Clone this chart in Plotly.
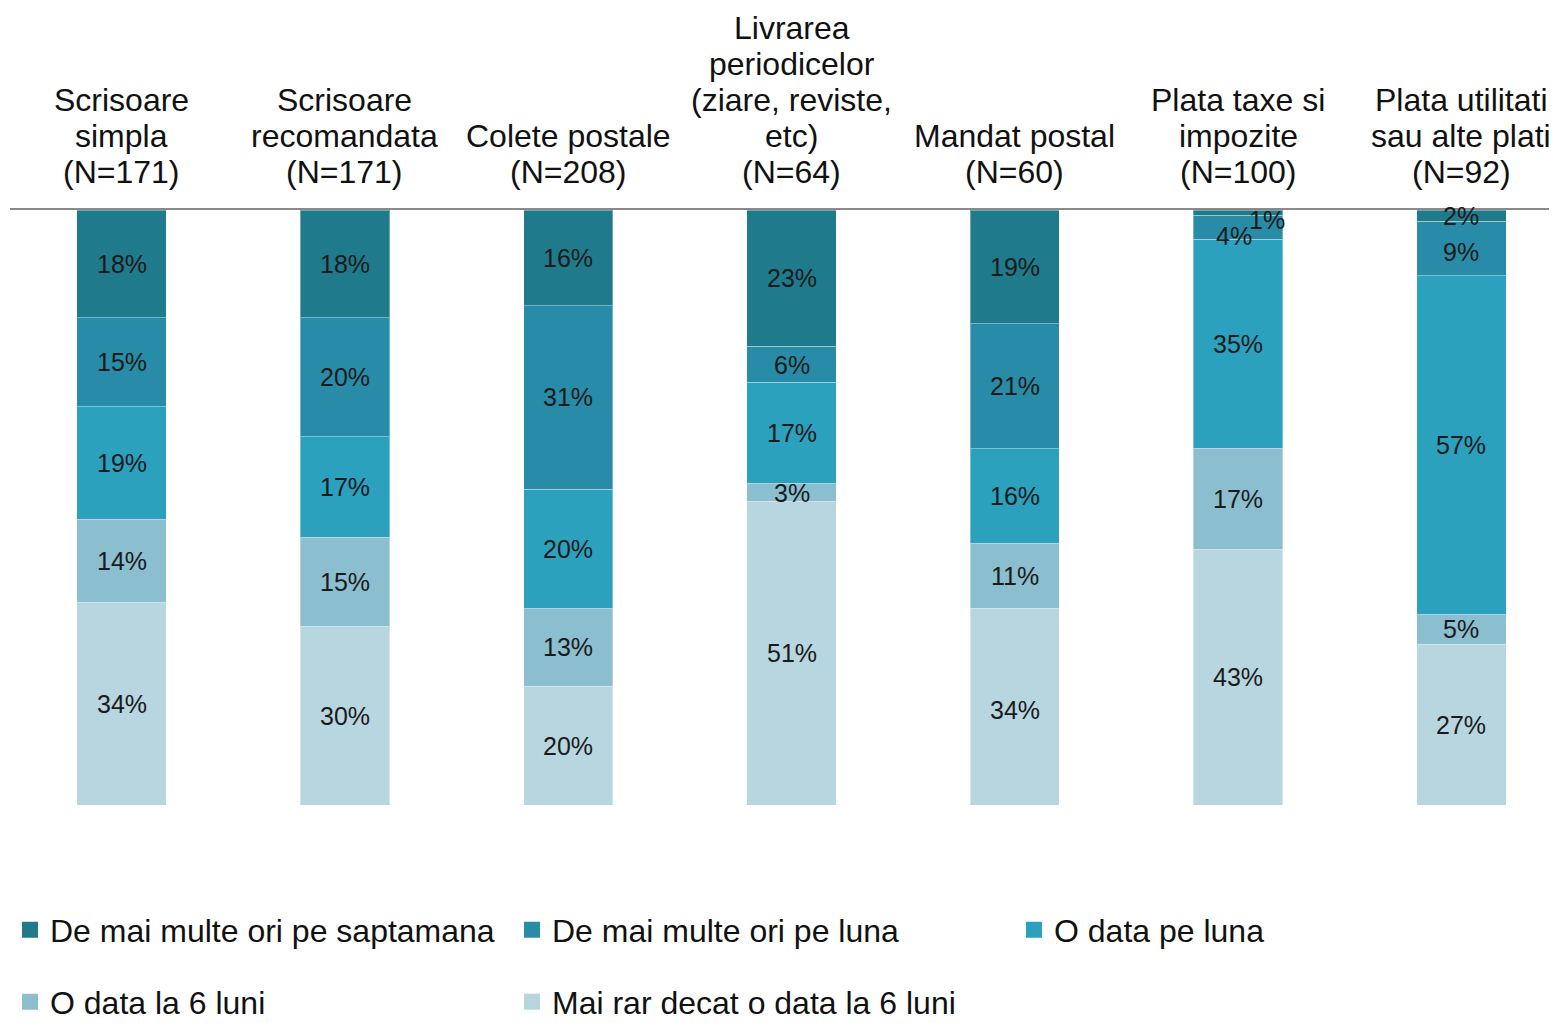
"""Stacked frequency-of-use bars for postal services."""

import plotly.graph_objects as go

CATEGORIES = [
    "Scrisoare<br>simpla<br>(N=171)",
    "Scrisoare<br>recomandata<br>(N=171)",
    "Colete postale<br>(N=208)",
    "Livrarea<br>periodicelor<br>(ziare, reviste,<br>etc)<br>(N=64)",
    "Mandat postal<br>(N=60)",
    "Plata taxe si<br>impozite<br>(N=100)",
    "Plata utilitati<br>sau alte plati<br>(N=92)",
]

SERIES = [
    "De mai multe ori pe saptamana",
    "De mai multe ori pe luna",
    "O data pe luna",
    "O data la 6 luni",
    "Mai rar decat o data la 6 luni",
]

weekly = [18, 18, 16, 23, 19, 1, 2]
monthly_multi = [15, 20, 31, 6, 21, 4, 9]
monthly_once = [19, 17, 20, 17, 16, 35, 57]
half_year = [14, 15, 13, 3, 11, 17, 5]
rarer = [34, 30, 20, 51, 34, 43, 27]

VALUES = [weekly, monthly_multi, monthly_once, half_year, rarer]

COLORS = ["#1f7a8c", "#288ca8", "#2ba1be", "#8bbecf", "#b8d6e0"]

FONT = "Liberation Sans, Arial, sans-serif"

# nudges for labels Excel pushed apart (series index, category index) -> (dx, dy)
LABEL_SHIFT = {(0, 5): (29, -7), (1, 5): (-4, -8), (1, 6): (0, -3)}

fig = go.Figure()
x = list(range(len(CATEGORIES)))

for i, (name, vals) in enumerate(zip(SERIES, VALUES)):
    fig.add_trace(
        go.Bar(
            x=x,
            y=vals,
            name=name,
            width=0.4,
            marker=dict(color=COLORS[i], line=dict(color="rgba(255,255,255,0.35)", width=1)),
            showlegend=False,
            hoverinfo="skip",
        )
    )
    # legend-only swatch so the square can be Excel-sized
    fig.add_trace(
        go.Scatter(
            x=[None],
            y=[None],
            mode="markers",
            name=name,
            marker=dict(symbol="square", size=16, color=COLORS[i], line=dict(width=0)),
            legend="legend" if i < 3 else "legend2",
        )
    )

# data labels at the middle of each segment
base = [0] * len(CATEGORIES)
for i, vals in enumerate(VALUES):
    for j, v in enumerate(vals):
        dx, dy = LABEL_SHIFT.get((i, j), (0, 0))
        fig.add_annotation(
            x=j,
            y=base[j] + v / 2,
            text=f"{v}%",
            showarrow=False,
            xshift=dx,
            yshift=dy,
            font=dict(size=25, color="#1a1a1a", family=FONT),
        )
        base[j] += v

# category headers above the axis line, one annotation per line (tighter leading)
for j, label in enumerate(CATEGORIES):
    lines = label.split("<br>")
    for k, line in enumerate(lines):
        fig.add_annotation(
            x=j,
            y=1,
            xref="x",
            yref="paper",
            text=line,
            showarrow=False,
            yanchor="middle",
            yshift=38 + (len(lines) - 1 - k) * 36,
            font=dict(size=32, color="#111111", family=FONT),
        )

legend_style = dict(
    orientation="h",
    x=0,
    xanchor="left",
    yref="container",
    yanchor="middle",
    traceorder="normal",
    entrywidth=457,
    entrywidthmode="pixels",
    font=dict(size=32, color="#111111"),
    itemclick=False,
)

fig.update_layout(
    width=1557,
    height=1023,
    barmode="stack",
    margin=dict(l=2, r=0, t=202, b=226),
    paper_bgcolor="white",
    plot_bgcolor="white",
    font=dict(family=FONT, size=32, color="#111111"),
    legend=dict(legend_style, y=0.0987),
    legend2=dict(legend_style, y=0.0283),
)

fig.update_xaxes(
    side="top",
    range=[-0.5, 6.464],
    showline=True,
    linecolor="#8a8a8a",
    linewidth=2,
    showgrid=False,
    showticklabels=False,
    ticks="",
    automargin=False,
)
fig.update_yaxes(range=[100, 0], visible=False, showgrid=False, automargin=False)

fig.write_html("out.html")
